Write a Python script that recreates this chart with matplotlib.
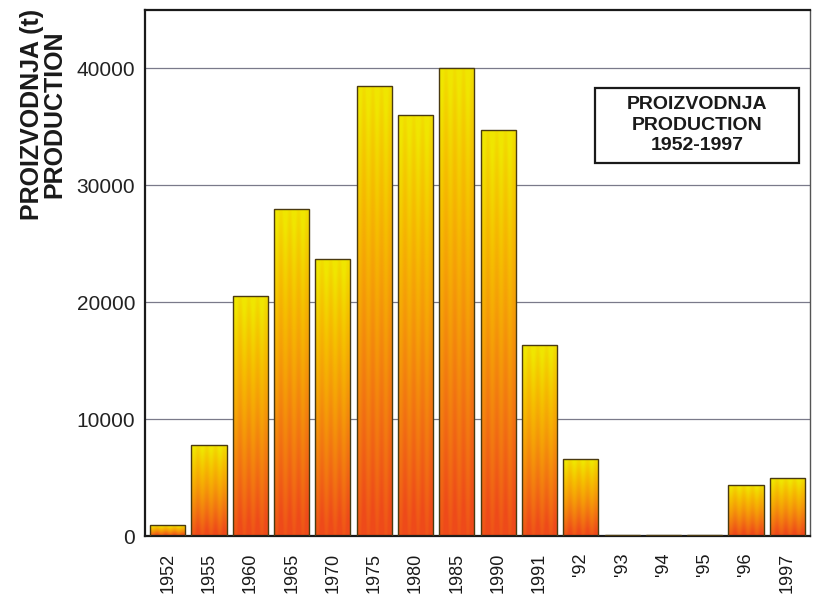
import numpy as np
import matplotlib.pyplot as plt
from matplotlib.colors import LinearSegmentedColormap
from matplotlib.patches import Rectangle

plt.rcParams['font.family'] = ['Liberation Sans', 'DejaVu Sans']

years = ['1952', '1955', '1960', '1965', '1970', '1975', '1980', '1985',
         '1990', '1991', "'92", "'93", "'94", "'95", "'96", '1997']
production = [900, 7800, 20500, 28000, 23700, 38500, 36000, 40000,
              34700, 16300, 6600, 80, 80, 80, 4400, 4950]
yticks = [0, 10000, 20000, 30000, 40000]

fig = plt.figure(figsize=(8.13, 6.09), dpi=100)
ax = fig.add_axes([145 / 813, 73 / 609, 665 / 813, 526 / 609])

# yellow at the top, orange-red at the bottom
cmap = LinearSegmentedColormap.from_list(
    'yo', ['#ee4a1a', '#f27412', '#f59c08', '#f5c000', '#f0e600'])
grad = np.linspace(0, 1, 256).reshape(-1, 1)
stripes = 0.06 * np.sin(np.linspace(0, 2 * np.pi * 4, 40)).reshape(1, -1)

x = np.arange(len(years))
w = 0.85
for xi, v in zip(x, production):
    img = np.clip(grad + stripes, 0, 1)
    im = ax.imshow(img, cmap=cmap, vmin=0, vmax=1, origin='lower', aspect='auto',
                   extent=[xi - w / 2, xi + w / 2, 0, v], zorder=2, interpolation='bilinear')
    rect = Rectangle((xi - w / 2, 0), w, v, facecolor='none', edgecolor='#4a3a10',
                     linewidth=1.0, zorder=3)
    ax.add_patch(rect)
    im.set_clip_path(rect)

ax.set_xlim(-0.55, len(years) - 0.45)
ax.set_ylim(0, 45000)
ax.set_yticks(yticks)
ax.set_yticklabels([str(t) for t in yticks], fontsize=15, color='#222222')
ax.set_xticks(x)
ax.set_xticklabels(years, rotation=90, fontsize=13, color='#1a1a1a')
ax.tick_params(axis='y', length=0, pad=7)
ax.tick_params(axis='x', length=0, pad=12)
ax.grid(axis='y', color='#7a7a8a', linewidth=0.9, zorder=0)
ax.set_axisbelow(True)
for s in ['left', 'top', 'bottom']:
    ax.spines[s].set_linewidth(1.6)
    ax.spines[s].set_color('#1a1a1a')
ax.spines['right'].set_linewidth(1.0)
ax.spines['right'].set_color('#555555')

fig.text(0.053, 0.985, 'PROIZVODNJA (t)\nPRODUCTION', rotation=90, ha='center', va='top',
         fontsize=18, fontweight='bold', color='#1a1a1a', linespacing=0.95)

# legend-like title box
ax.add_patch(Rectangle((0.676, 0.709), 0.308, 0.143, transform=ax.transAxes,
                       facecolor='white', edgecolor='#1a1a1a', linewidth=1.6, zorder=5))
ax.text(0.83, 0.781, 'PROIZVODNJA\nPRODUCTION\n1952-1997', transform=ax.transAxes,
        ha='center', va='center', fontsize=14, fontweight='bold', color='#1a1a1a',
        linespacing=1.25, zorder=6)

fig.savefig('out.png', dpi=100)
